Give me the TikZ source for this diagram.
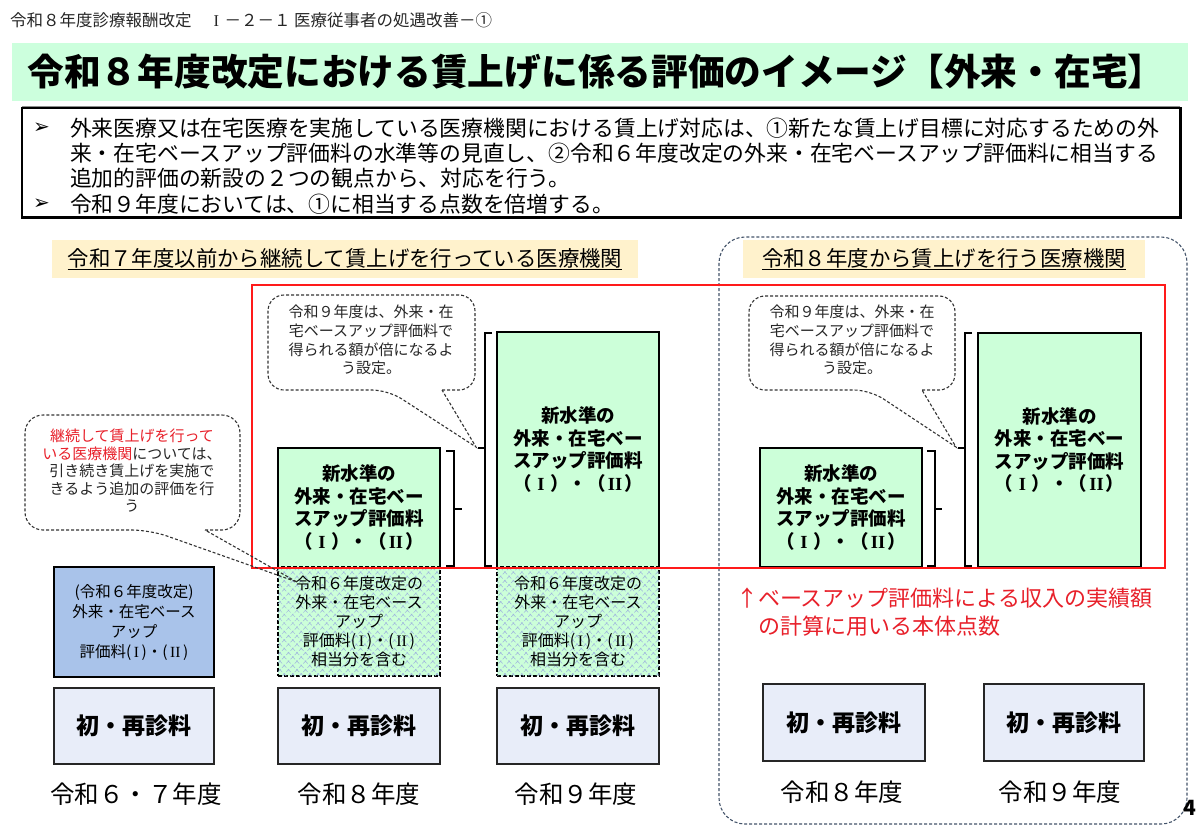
\documentclass[tikz,border=0pt]{standalone}
\usepackage{fontspec}
\setmainfont{Noto Sans CJK JP}
\newfontfamily\djv{DejaVu Sans}
\newfontfamily\rmn{Liberation Serif}
\usetikzlibrary{patterns.meta,calc}
\definecolor{titlegreen}{HTML}{CCFFDD}
\definecolor{boxgreen}{HTML}{CCFFD9}
\definecolor{beige}{HTML}{FFF2CC}
\definecolor{bluebox}{HTML}{A9C3EA}
\definecolor{lavender}{HTML}{E8EDF9}
\definecolor{redline}{HTML}{FF1A1A}
\definecolor{redtext}{HTML}{E8202A}
\definecolor{slate}{HTML}{44546A}
\definecolor{hatchblue}{HTML}{A0B6DE}
\newcommand{\RI}{\makebox[1em]{\rmn I}}
\newcommand{\RII}{\makebox[1em]{\rmn II}}
\newcommand{\ri}{{\rmn\,I\,}}
\newcommand{\rii}{{\rmn\,II\,}}
\begin{document}
\begin{tikzpicture}[x=1pt,y=-1pt,
  txt/.style={inner sep=0pt, outer sep=0pt},
  greenbox/.style={fill=boxgreen, inner sep=0pt, outer sep=0pt, align=center, minimum width=162pt, font=\fontsize{18.5}{22.5}\selectfont\bfseries},
  boxedge/.style={draw=black, line width=1.7pt},
  hatchbox/.style={fill=boxgreen, draw=black, line width=1.5pt, dash pattern=on 4pt off 2pt, inner sep=0pt, outer sep=0pt, align=center, minimum width=162pt, minimum height=109pt, font=\fontsize{16}{18.8}\selectfont, postaction={pattern={Hatch[angle=45,distance=6pt,line width=0.5pt]}, pattern color=hatchblue}},
  basebox/.style={fill=lavender, draw=black!85, line width=1.5pt, inner sep=0pt, outer sep=0pt, minimum height=76pt, font=\fontsize{23}{26}\selectfont\bfseries},
  shadowline/.style={draw=black!85, line width=2.6pt},
  yearlabel/.style={inner sep=0pt, font=\fontsize{24.5}{28}\selectfont},
  callout/.style={draw=black!80, line width=1.1pt, dash pattern=on 3pt off 2pt},
  callouttext/.style={inner sep=0pt, align=center, text=black!85},
  bracket/.style={draw=black, line width=1.6pt},
  headlabel/.style={fill=beige, inner sep=0pt, minimum height=38pt, font=\fontsize{21.4}{24}\selectfont},
]
% canvas
\fill[white] (0,0) rectangle (1200,831);
\useasboundingbox (0,0) rectangle (1200,831);

% header
\node[txt, anchor=west, font=\fontsize{16.5}{20}\selectfont, text=black!85] (hdr) at (10,20) {令和８年度診療報酬改定　\RI－２－１ 医療従事者の処遇改善－①};

% title bar
\node[fill=titlegreen, minimum width=1176pt, minimum height=58pt, inner sep=0pt] (titlebar) at (600,72) {};
\node[txt, font=\fontsize{36.7}{40}\selectfont\bfseries] (title) at (596,72) {令和８年度改定における賃上げに係る評価のイメージ【外来・在宅】};
\draw[black!45, line width=1.5pt] (22,107) -- (1180,107);

% bullet box
\node[draw=black, line width=1.2pt, minimum width=1158pt, minimum height=109pt, inner sep=0pt] (bulletbox) at (601,162.5) {};
\draw[black, line width=2.4pt] (bulletbox.south west) -- (bulletbox.south east) -- (bulletbox.north east);
\node[txt, anchor=west, font=\djv\fontsize{20}{22}\selectfont] (bul1) at (33,128) {➢};
\node[txt, anchor=west, font=\djv\fontsize{20}{22}\selectfont] (bul2) at (33,204) {➢};
\begin{scope}[every node/.style={txt, anchor=west, font=\fontsize{21.8}{25}\selectfont}]
\node (l1) at (70,128) {外来医療又は在宅医療を実施している医療機関における賃上げ対応は、①新たな賃上げ目標に対応するための外};
\node (l2) at (70,153) {来・在宅ベースアップ評価料の水準等の見直し、②令和６年度改定の外来・在宅ベースアップ評価料に相当する};
\node (l3) at (70,178) {追加的評価の新設の２つの観点から、対応を行う。};
\node (l4) at (70,204) {令和９年度においては、①に相当する点数を倍増する。};
\end{scope}

% right group frame
\draw[slate, line width=1.1pt, dash pattern=on 3pt off 2pt, rounded corners=26pt] (719,237) rectangle (1187,824);

% section labels
\node[headlabel, minimum width=586pt] (lab1) at (345,259) {\underline{令和７年度以前から継続して賃上げを行っている医療機関}};
\node[headlabel, minimum width=402pt] (lab2) at (944,259) {\underline{令和８年度から賃上げを行う医療機関}};

% column 1
\node[fill=bluebox, draw=black, line width=1.7pt, minimum width=160pt, minimum height=110pt, inner sep=0pt, align=center, font=\fontsize{15.5}{20}\selectfont] (blue1) at (134,622) {(令和６年度改定)\\外来・在宅ベース\\アップ\\評価料(\ri)・(\rii)};
\node[basebox, minimum width=160pt] (base1) at (134,726) {初・再診料};
\draw[shadowline] (base1.south west) -- (base1.south east);
\node[yearlabel] (y1) at (136,794) {令和６・７年度};

% column 2
\node[greenbox, minimum height=119pt] (g2) at (359,507.5) {新水準の\\外来・在宅ベー\\スアップ評価料\\（\RI）・（\RII）};
\draw[boxedge] (g2.south west) -- (g2.north west) -- (g2.north east) -- (g2.south east);
\node[hatchbox] (h2) at (359,621.5) {令和６年度改定の\\外来・在宅ベース\\アップ\\評価料(\ri)・(\rii)\\相当分を含む};
\node[basebox, minimum width=162pt] (base2) at (359,726) {初・再診料};
\draw[shadowline] (base2.south west) -- (base2.south east);
\node[yearlabel] (y2) at (359,794) {令和８年度};

% column 3
\node[greenbox, minimum height=235pt] (g3) at (578,449.5) {新水準の\\外来・在宅ベー\\スアップ評価料\\（\RI）・（\RII）};
\draw[boxedge] (g3.south west) -- (g3.north west) -- (g3.north east) -- (g3.south east);
\node[hatchbox] (h3) at (578,621.5) {令和６年度改定の\\外来・在宅ベース\\アップ\\評価料(\ri)・(\rii)\\相当分を含む};
\node[basebox, minimum width=162pt] (base3) at (578,726) {初・再診料};
\draw[shadowline] (base3.south west) -- (base3.south east);
\node[yearlabel] (y3) at (576,794) {令和９年度};

% column 4
\node[greenbox, minimum height=119pt, boxedge] (g4) at (841,507.5) {新水準の\\外来・在宅ベー\\スアップ評価料\\（\RI）・（\RII）};
\node[basebox, minimum width=162pt, minimum height=77pt] (base4) at (844,722.5) {初・再診料};
\draw[shadowline] (base4.south west) -- (base4.south east);
\node[yearlabel] (y4) at (842,792) {令和８年度};

% column 5
\node[greenbox, minimum height=234pt, minimum width=163pt, boxedge] (g5) at (1059.5,450) {新水準の\\外来・在宅ベー\\スアップ評価料\\（\RI）・（\RII）};
\node[basebox, minimum width=160pt, minimum height=77pt] (base5) at (1064,722.5) {初・再診料};
\draw[shadowline] (base5.south west) -- (base5.south east);
\node[yearlabel] (y5) at (1060,792) {令和９年度};

% brackets
\coordinate (t2) at (462,509);
\coordinate (t3) at (478,448);
\coordinate (t4) at (942,509);
\coordinate (t5) at (958,448);
\draw[bracket] (446,451) -- (454,451) -- (454,566) -- (446,566);
\draw[bracket] (454,509) -- (t2);
\draw[bracket] (492,333) -- (485,333) -- (485,566) -- (492,566);
\draw[bracket] (485,448) -- (t3);
\draw[bracket] (927,451) -- (935,451) -- (935,566) -- (927,566);
\draw[bracket] (935,509) -- (t4);
\draw[bracket] (972,333) -- (965,333) -- (965,566) -- (972,566);
\draw[bracket] (965,448) -- (t5);

% red frame
\draw[redline, line width=2.6pt] (252,285) rectangle (1165,568);

% red note
\node[txt, anchor=west, text=redtext, font=\fontsize{22}{26}\selectfont] (red1) at (736,598) {↑ベースアップ評価料による収入の実績額};
\node[txt, anchor=west, text=redtext, font=\fontsize{22}{26}\selectfont] (red2) at (758,626) {の計算に用いる本体点数};

% callouts
\coordinate (tipL) at (297,582);
\draw[callout] (205,530) [rounded corners=18pt] -- (240,530) -- (240,415) -- (25,415) -- (25,530) -- (150,530) [sharp corners] -- (tipL) -- cycle;
\node[callouttext, font=\fontsize{15}{17.5}\selectfont] (callL) at (132,471) {\textcolor{redtext}{継続して賃上げを行って}\\\textcolor{redtext}{いる医療機関}については、\\引き続き賃上げを実施で\\きるよう追加の評価を行\\う};

\coordinate (tipM) at (476,447);
\draw[callout] (442,390) [rounded corners=16pt] -- (475,390) -- (475,295) -- (268,295) -- (268,390) -- (388,390) [sharp corners] -- (tipM) -- cycle;
\node[callouttext, font=\fontsize{15}{18.7}\selectfont] (callM) at (371,340) {令和９年度は、外来・在\\宅ベースアップ評価料で\\得られる額が倍になるよ\\う設定。};

\coordinate (tipR) at (956,447);
\draw[callout] (922,390) [rounded corners=16pt] -- (955,390) -- (955,296) -- (749,296) -- (749,390) -- (870,390) [sharp corners] -- (tipR) -- cycle;
\node[callouttext, font=\fontsize{15}{18.7}\selectfont] (callR) at (852,340) {令和９年度は、外来・在\\宅ベースアップ評価料で\\得られる額が倍になるよ\\う設定。};

% page number
\node[txt, font=\fontsize{21}{24}\selectfont\bfseries] (pg) at (1190,808) {4};
\end{tikzpicture}
\end{document}
